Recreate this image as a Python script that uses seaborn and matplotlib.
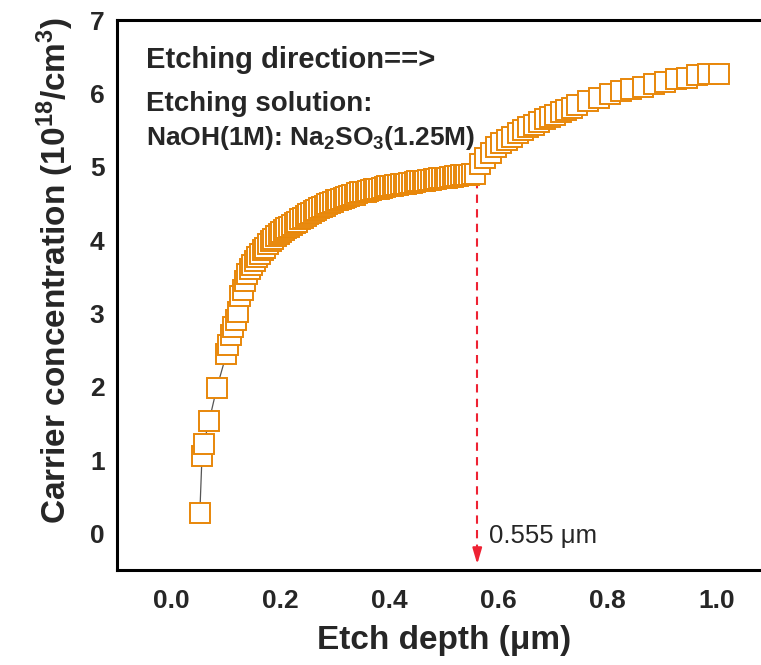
import matplotlib
matplotlib.use("Agg")
import matplotlib.pyplot as plt
from matplotlib.ticker import MultipleLocator
import seaborn as sns
import pandas as pd

# ---- data ----
depth_um = [
    0.052, 0.056, 0.059, 0.069, 0.083,
    0.1006, 0.1037, 0.1086, 0.1128, 0.1178, 0.122, 0.1257, 0.131, 0.1354, 0.139,
    0.1435, 0.1477, 0.1527, 0.1574, 0.1624, 0.167, 0.172, 0.177, 0.182, 0.187,
    0.192, 0.197, 0.2015, 0.2064,
    0.211, 0.216, 0.221, 0.226, 0.231, 0.236, 0.241, 0.246, 0.251, 0.256,
    0.261, 0.266, 0.271, 0.276, 0.281, 0.286, 0.291, 0.296, 0.301, 0.306,
    0.311, 0.316, 0.321, 0.326, 0.331, 0.336, 0.341, 0.346, 0.351, 0.356,
    0.361, 0.366, 0.371, 0.376, 0.381, 0.386, 0.391, 0.396, 0.401, 0.406,
    0.411, 0.416, 0.421, 0.426, 0.431, 0.436, 0.441, 0.446, 0.451, 0.456,
    0.461, 0.466, 0.471, 0.476, 0.481, 0.486, 0.491, 0.496, 0.501, 0.506,
    0.511, 0.516, 0.521, 0.526, 0.531, 0.536, 0.541, 0.546, 0.551, 0.556,
    0.566, 0.575, 0.586, 0.595, 0.605, 0.616, 0.625, 0.635, 0.645, 0.655,
    0.665, 0.674, 0.685, 0.695, 0.704, 0.715, 0.724, 0.734, 0.744,
    0.764, 0.784, 0.805, 0.825, 0.844, 0.865, 0.885, 0.905, 0.925, 0.945,
    0.965, 0.984, 1.005,
]
carrier_conc = [
    0.28, 1.06, 1.22, 1.53, 1.98,
    2.44, 2.57, 2.70, 2.81, 2.91, 3.02, 3.23, 3.32, 3.44, 3.53,
    3.60, 3.66, 3.72, 3.77, 3.81, 3.86, 3.89, 3.94, 3.98, 4.02,
    4.05, 4.08, 4.11, 4.135,
    4.16, 4.18, 4.21, 4.23, 4.25, 4.28, 4.30, 4.33, 4.35, 4.37,
    4.39, 4.41, 4.43, 4.45, 4.47, 4.49, 4.51, 4.52, 4.54, 4.55,
    4.56, 4.57, 4.59, 4.60, 4.61, 4.62, 4.64, 4.65, 4.66, 4.66,
    4.67, 4.68, 4.69, 4.70, 4.70, 4.71, 4.72, 4.73, 4.73, 4.74,
    4.75, 4.75, 4.76, 4.77, 4.77, 4.78, 4.78, 4.79, 4.80, 4.80,
    4.81, 4.81, 4.82, 4.82, 4.83, 4.83, 4.84, 4.84, 4.85, 4.85,
    4.86, 4.86, 4.87, 4.87, 4.88, 4.88, 4.89, 4.89, 4.90, 4.90,
    5.03, 5.12, 5.19, 5.27, 5.32, 5.365, 5.41, 5.46, 5.50, 5.535,
    5.57, 5.61, 5.645, 5.675, 5.71, 5.745, 5.77, 5.80, 5.845,
    5.89, 5.94, 5.99, 6.03, 6.065, 6.09, 6.13, 6.16, 6.19, 6.21,
    6.25, 6.26, 6.27,
]
marked_depth = 0.561
marked_label = "0.555 \u03bcm"
x_ticks = [0.0, 0.2, 0.4, 0.6, 0.8, 1.0]
y_ticks = [0, 1, 2, 3, 4, 5, 6, 7]

df = pd.DataFrame({"depth": depth_um, "conc": carrier_conc})

sns.set_style("white")
plt.rcParams["font.family"] = ["Liberation Sans", "DejaVu Sans"]
plt.rcParams["mathtext.fontset"] = "custom"
plt.rcParams["mathtext.rm"] = "Liberation Sans"
plt.rcParams["mathtext.bf"] = "Liberation Sans:bold"
plt.rcParams["mathtext.it"] = "Liberation Sans:italic"

fig = plt.figure(figsize=(7.61, 6.65), dpi=100)
ax = fig.add_axes([117 / 761, 95 / 665, 654 / 761, 550 / 665])

orange = "#E8870A"
sns.lineplot(data=df, x="depth", y="conc", sort=False, ax=ax,
             color="#555555", linewidth=0.9, marker="s", markersize=14,
             markerfacecolor="white", markeredgecolor=orange,
             markeredgewidth=1.4, zorder=3)

# red dashed marker line with arrow head
red = "#EE2233"
ax.plot([marked_depth, marked_depth], [4.82, -0.25], color=red,
        linestyle=(0, (4, 3)), linewidth=1.5, zorder=2)
ax.annotate("", xy=(marked_depth, -0.42), xytext=(marked_depth, -0.22),
            arrowprops=dict(arrowstyle="-|>,head_length=0.95,head_width=0.28",
                            color=red, lw=1.5, mutation_scale=10,
                            shrinkA=0, shrinkB=0), zorder=2)
ax.text(0.583, -0.03, marked_label, fontsize=18.5, ha="left", va="center")

ax.text(-0.046, 6.46, "Etching direction==>", fontsize=21,
        fontweight="bold", ha="left", va="center")
ax.text(-0.046, 5.86, "Etching solution:", fontsize=20,
        fontweight="bold", ha="left", va="center")
ax.text(-0.046, 5.39,
        r"NaOH(1M): Na$_{\mathbf{2}}$SO$_{\mathbf{3}}$(1.25M)",
        fontsize=19, fontweight="bold", ha="left", va="center")

ax.set_xlim(-0.1, 1.1)
ax.set_ylim(-0.5, 7)
ax.set_xticks(x_ticks)
ax.set_xticklabels([f"{v:.1f}" for v in x_ticks])
ax.set_yticks(y_ticks)
ax.set_yticklabels([str(v) for v in y_ticks])
ax.xaxis.set_minor_locator(MultipleLocator(0.1))
ax.yaxis.set_minor_locator(MultipleLocator(0.5))
ax.tick_params(which="major", direction="in", length=7, width=1.6,
               labelsize=19, pad=9, top=False, right=False)
ax.tick_params(axis="x", which="major", pad=14)
ax.tick_params(which="minor", direction="in", length=3.5, width=1.6,
               top=False, right=False)
for lbl in ax.get_xticklabels() + ax.get_yticklabels():
    lbl.set_fontweight("bold")
for s in ax.spines.values():
    s.set_linewidth(2.2)
    s.set_color("black")

ax.set_xlabel("Etch depth (\u03bcm)", fontsize=24, fontweight="bold", labelpad=8)
ax.set_ylabel(r"Carrier concentration (10$^{\mathbf{18}}$/cm$^{\mathbf{3}}$)",
              fontsize=24, fontweight="bold", labelpad=10)
ax.yaxis.label.set_y(0.544)

fig.savefig("out.png", dpi=100)
